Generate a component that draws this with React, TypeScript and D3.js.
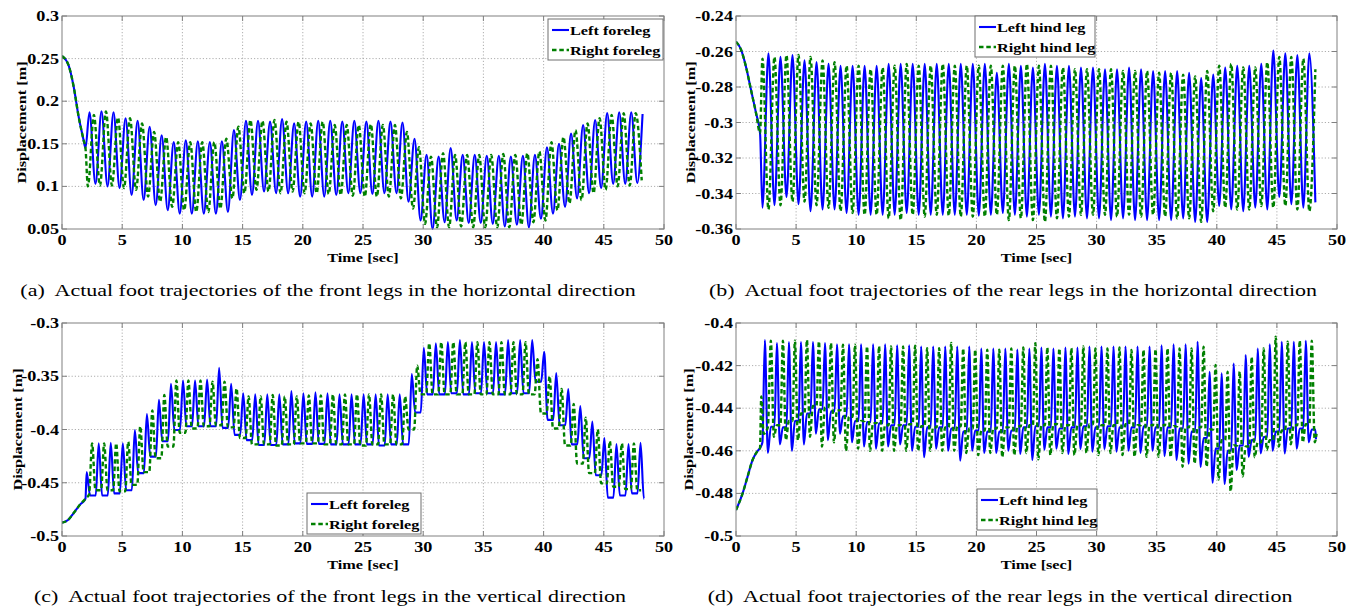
import React from 'react';
import * as d3 from 'd3';

type Pt = [number, number];

// ---------- shared data ----------
const GAIT_PERIOD = 1.0; // s, read from spacing of successive peaks
const TIME_TICKS = [0, 5, 10, 15, 20, 25, 30, 35, 40, 45, 50];
const LEGEND_FRONT = ['Left foreleg', 'Right foreleg'];
const LEGEND_REAR = ['Left hind leg', 'Right hind leg'];
const CAPTIONS = [
  '(a)  Actual foot trajectories of the front legs in the horizontal direction',
  '(b)  Actual foot trajectories of the rear legs in the horizontal direction',
  '(c)  Actual foot trajectories of the front legs in the vertical direction',
  '(d)  Actual foot trajectories of the rear legs in the vertical direction',
];

// ---------- (a) front legs, horizontal ----------
const A_Y_TICKS = ['0.05', '0.1', '0.15', '0.2', '0.25', '0.3'];
const A_START: Pt[] = [[0, 0.253], [0.55, 0.242], [0.97, 0.217], [1.38, 0.182], [1.8, 0.154], [1.95, 0.145]];
const A_LEFT_PEAK_T0 = 2.28;
const A_LEFT_PEAKS = [
  0.187, 0.188, 0.187, 0.18, 0.177, 0.17, 0.16, 0.152, 0.154, 0.153,
  0.152, 0.153, 0.166, 0.177, 0.177, 0.176, 0.179, 0.174, 0.176, 0.177,
  0.177, 0.176, 0.177, 0.176, 0.177, 0.176, 0.175, 0.156, 0.137, 0.135,
  0.145, 0.137, 0.137, 0.136, 0.136, 0.135, 0.136, 0.137, 0.146, 0.15,
  0.162, 0.172, 0.178, 0.186, 0.187, 0.187];
const A_LEFT_TROUGH_T0 = 2.78;
const A_LEFT_TROUGHS = [
  0.103, 0.1, 0.098, 0.09, 0.084, 0.078, 0.072, 0.068, 0.068, 0.068,
  0.068, 0.07, 0.084, 0.09, 0.094, 0.092, 0.092, 0.088, 0.088, 0.088,
  0.09, 0.092, 0.092, 0.091, 0.092, 0.092, 0.082, 0.06, 0.05, 0.058,
  0.06, 0.057, 0.057, 0.056, 0.053, 0.055, 0.052, 0.062, 0.068, 0.076,
  0.086, 0.092, 0.098, 0.103, 0.103, 0.104];
const A_LEFT_END: Pt[] = [[48.22, 0.185]];
const A_RIGHT_TROUGH_T0 = 2.15;
const A_RIGHT_TROUGHS = [
  0.1, 0.101, 0.101, 0.098, 0.096, 0.088, 0.082, 0.076, 0.072, 0.07,
  0.07, 0.074, 0.086, 0.092, 0.096, 0.094, 0.092, 0.094, 0.092, 0.092,
  0.091, 0.09, 0.089, 0.088, 0.088, 0.088, 0.086, 0.074, 0.056, 0.052,
  0.052, 0.053, 0.052, 0.052, 0.052, 0.052, 0.055, 0.058, 0.06, 0.072,
  0.08, 0.084, 0.092, 0.096, 0.1, 0.101, 0.107];
const A_RIGHT_PEAK_T0 = 2.65;
const A_RIGHT_PEAKS = [
  0.184, 0.188, 0.181, 0.18, 0.174, 0.164, 0.158, 0.152, 0.152, 0.152,
  0.152, 0.156, 0.17, 0.178, 0.177, 0.178, 0.176, 0.176, 0.174, 0.176,
  0.172, 0.172, 0.172, 0.173, 0.172, 0.172, 0.164, 0.146, 0.135, 0.139,
  0.137, 0.137, 0.137, 0.137, 0.138, 0.137, 0.139, 0.141, 0.152, 0.158,
  0.166, 0.174, 0.18, 0.184, 0.186, 0.186];

// ---------- (b) rear legs, horizontal ----------
const B_Y_TICKS = ['-0.36', '-0.34', '-0.32', '-0.3', '-0.28', '-0.26', '-0.24'];
const B_START: Pt[] = [[0, -0.2545], [0.42, -0.259], [0.83, -0.2686], [1.25, -0.2817], [1.67, -0.2948], [2.0, -0.306]];
const B_LEFT_TROUGH_T0 = 2.2;
const B_LEFT_TROUGHS = [
  -0.348, -0.3466, -0.342, -0.346, -0.35, -0.349, -0.349, -0.351, -0.352, -0.352,
  -0.352, -0.352, -0.351, -0.352, -0.352, -0.352, -0.352, -0.352, -0.3525, -0.352,
  -0.351, -0.352, -0.353, -0.352, -0.353, -0.354, -0.353, -0.354, -0.354, -0.355,
  -0.354, -0.355, -0.355, -0.355, -0.355, -0.354, -0.356, -0.356, -0.347, -0.349,
  -0.35, -0.348, -0.349, -0.342, -0.346, -0.348, -0.345];
const B_LEFT_PEAK_T0 = 2.7;
const B_LEFT_PEAKS = [
  -0.261, -0.263, -0.262, -0.265, -0.266, -0.267, -0.268, -0.268, -0.268, -0.268,
  -0.267, -0.267, -0.267, -0.267, -0.267, -0.267, -0.267, -0.267, -0.267, -0.272,
  -0.267, -0.268, -0.269, -0.267, -0.268, -0.268, -0.269, -0.269, -0.27, -0.27,
  -0.269, -0.27, -0.271, -0.271, -0.271, -0.272, -0.275, -0.273, -0.269, -0.268,
  -0.268, -0.267, -0.2595, -0.261, -0.262, -0.261];
const B_RIGHT_PEAK_T0 = 2.2;
const B_RIGHT_PEAKS = [
  -0.264, -0.263, -0.262, -0.262, -0.263, -0.265, -0.266, -0.268, -0.268, -0.27,
  -0.269, -0.268, -0.267, -0.268, -0.268, -0.267, -0.268, -0.268, -0.268, -0.268,
  -0.268, -0.268, -0.267, -0.268, -0.268, -0.269, -0.27, -0.27, -0.27, -0.27,
  -0.271, -0.271, -0.271, -0.272, -0.272, -0.273, -0.274, -0.271, -0.268, -0.267,
  -0.269, -0.269, -0.266, -0.263, -0.263, -0.264, -0.27];
const B_RIGHT_TROUGH_T0 = 2.7;
const B_RIGHT_TROUGHS = [
  -0.349, -0.3466, -0.3446, -0.3446, -0.3466, -0.348, -0.35, -0.351, -0.352, -0.352,
  -0.354, -0.355, -0.352, -0.353, -0.352, -0.3525, -0.353, -0.353, -0.353, -0.352,
  -0.355, -0.354, -0.355, -0.356, -0.354, -0.353, -0.352, -0.352, -0.352, -0.353,
  -0.352, -0.353, -0.352, -0.353, -0.354, -0.354, -0.356, -0.35, -0.348, -0.349,
  -0.349, -0.347, -0.348, -0.347, -0.349, -0.35];

// ---------- (c) front legs, vertical ----------
const C_Y_TICKS = ['-0.5', '-0.45', '-0.4', '-0.35', '-0.3'];
const C_START: Pt[] = [[0, -0.4875], [0.5, -0.485], [1.0, -0.478], [1.5, -0.4705], [1.95, -0.465]];
const C_LEFT_PEAK_T0 = 2.05;
const C_LEFT_PEAKS = [
  -0.44, -0.413, -0.4125, -0.413, -0.4006, -0.3856, -0.372, -0.357, -0.354, -0.354,
  -0.353, -0.342, -0.357, -0.366, -0.367, -0.367, -0.367, -0.364, -0.366, -0.365,
  -0.366, -0.367, -0.367, -0.367, -0.367, -0.367, -0.367, -0.348, -0.3234, -0.319,
  -0.318, -0.316, -0.318, -0.318, -0.318, -0.316, -0.316, -0.316, -0.327, -0.347,
  -0.362, -0.378, -0.3926, -0.408, -0.4136, -0.4136, -0.4126];
const C_LEFT_BASES = [
  -0.462, -0.462, -0.46, -0.457, -0.441, -0.4255, -0.411, -0.4005, -0.397, -0.397,
  -0.397, -0.3985, -0.405, -0.41, -0.4146, -0.4146, -0.414, -0.413, -0.4135, -0.4135,
  -0.414, -0.414, -0.414, -0.414, -0.415, -0.414, -0.414, -0.384, -0.367, -0.367,
  -0.366, -0.367, -0.366, -0.366, -0.367, -0.366, -0.366, -0.355, -0.391, -0.396,
  -0.414, -0.427, -0.443, -0.464, -0.462, -0.46, -0.465];
const C_LEFT_END: Pt[] = [[48.35, -0.465]];
const C_RIGHT_LEAD: Pt[] = [[2.25, -0.461]];
const C_RIGHT_PEAK_T0 = 2.5;
const C_RIGHT_PEAKS = [
  -0.413, -0.413, -0.413, -0.4115, -0.397, -0.382, -0.3676, -0.354, -0.354, -0.354,
  -0.355, -0.355, -0.3614, -0.369, -0.369, -0.3676, -0.369, -0.369, -0.368, -0.368,
  -0.367, -0.367, -0.367, -0.367, -0.367, -0.367, -0.369, -0.34, -0.319, -0.318,
  -0.318, -0.318, -0.318, -0.318, -0.318, -0.318, -0.318, -0.334, -0.35, -0.362,
  -0.376, -0.389, -0.4, -0.411, -0.413, -0.413];
const C_RIGHT_BASES = [
  -0.457, -0.457, -0.458, -0.452, -0.44, -0.427, -0.416, -0.403, -0.399, -0.397,
  -0.396, -0.398, -0.408, -0.414, -0.414, -0.415, -0.414, -0.413, -0.413, -0.414,
  -0.414, -0.414, -0.415, -0.414, -0.414, -0.414, -0.4, -0.367, -0.367, -0.367,
  -0.367, -0.367, -0.367, -0.367, -0.367, -0.367, -0.367, -0.385, -0.399, -0.415,
  -0.432, -0.441, -0.4506, -0.4537, -0.456, -0.457];
const C_RIGHT_END: Pt[] = [[48.1, -0.457]];

// ---------- (d) rear legs, vertical ----------
const D_Y_TICKS = ['-0.5', '-0.48', '-0.46', '-0.44', '-0.42', '-0.4'];
const D_START: Pt[] = [[0, -0.4878], [0.55, -0.48], [0.97, -0.472], [1.38, -0.4643], [1.8, -0.46], [2.0, -0.4587]];
const D_LEFT_LEAD: Pt[] = [[2.2, -0.456]];
const D_LEFT_PEAK_T0 = 2.4;
const D_LEFT_PEAKS = [
  -0.408, -0.4094, -0.409, -0.409, -0.409, -0.4094, -0.41, -0.41, -0.41, -0.41,
  -0.41, -0.4105, -0.4105, -0.411, -0.411, -0.411, -0.411, -0.411, -0.412, -0.412,
  -0.412, -0.4125, -0.412, -0.4115, -0.412, -0.4115, -0.4115, -0.411, -0.411, -0.411,
  -0.411, -0.411, -0.411, -0.4105, -0.41, -0.41, -0.4088, -0.4229, -0.4236, -0.419,
  -0.415, -0.412, -0.41, -0.4088, -0.4088, -0.4083];
const D_LEFT_DIPS = [
  -0.461, -0.457, -0.46, -0.457, -0.452, -0.455, -0.452, -0.456, -0.458, -0.459,
  -0.458, -0.457, -0.46, -0.463, -0.459, -0.46, -0.4646, -0.46, -0.461, -0.461,
  -0.46, -0.4615, -0.4643, -0.4595, -0.459, -0.4615, -0.4592, -0.4604, -0.4592, -0.4604,
  -0.46, -0.461, -0.46, -0.4625, -0.4643, -0.466, -0.4676, -0.475, -0.4756, -0.469,
  -0.4628, -0.4612, -0.46, -0.4612, -0.459, -0.456];
const D_LEFT_BASES = [
  -0.4487, -0.449, -0.446, -0.4425, -0.4405, -0.4415, -0.4438, -0.446, -0.4465, -0.4471,
  -0.448, -0.448, -0.4487, -0.449, -0.449, -0.4495, -0.451, -0.4505, -0.451, -0.451,
  -0.4505, -0.449, -0.4485, -0.449, -0.4495, -0.449, -0.4485, -0.449, -0.4485, -0.449,
  -0.449, -0.4485, -0.449, -0.449, -0.4495, -0.451, -0.454, -0.459, -0.46, -0.4575,
  -0.455, -0.4535, -0.451, -0.4495, -0.4495, -0.45];
const D_LEFT_END: Pt[] = [[48.25, -0.4546]];
const D_RIGHT_LEAD: Pt[] = [[2.1, -0.4345], [2.3, -0.452], [2.65, -0.449]];
const D_RIGHT_PEAK_T0 = 2.9;
const D_RIGHT_PEAKS = [
  -0.4083, -0.4083, -0.4083, -0.408, -0.4086, -0.4094, -0.4102, -0.4102, -0.411, -0.411,
  -0.411, -0.411, -0.4106, -0.4118, -0.4118, -0.4094, -0.412, -0.4125, -0.4125, -0.4125,
  -0.412, -0.4115, -0.4095, -0.4115, -0.412, -0.4118, -0.411, -0.412, -0.412, -0.4115,
  -0.4127, -0.4127, -0.4123, -0.412, -0.412, -0.412, -0.4111, -0.4197, -0.4229, -0.4228,
  -0.416, -0.4119, -0.4064, -0.4088, -0.4083, -0.4083];
const D_RIGHT_DIPS = [
  -0.4534, -0.455, -0.455, -0.4534, -0.458, -0.456, -0.46, -0.459, -0.46, -0.46,
  -0.46, -0.46, -0.46, -0.46, -0.46, -0.46, -0.461, -0.462, -0.461, -0.463,
  -0.462, -0.461, -0.464, -0.462, -0.461, -0.462, -0.461, -0.462, -0.461, -0.462,
  -0.4628, -0.4628, -0.4628, -0.463, -0.4675, -0.466, -0.4675, -0.4735, -0.479, -0.472,
  -0.463, -0.4596, -0.458, -0.457, -0.456, -0.456];
const D_RIGHT_BASES = [
  -0.448, -0.446, -0.4425, -0.439, -0.4395, -0.441, -0.444, -0.446, -0.447, -0.448,
  -0.448, -0.4475, -0.4485, -0.449, -0.449, -0.4485, -0.4495, -0.4505, -0.4495, -0.449,
  -0.4485, -0.448, -0.448, -0.4475, -0.448, -0.448, -0.4475, -0.448, -0.448, -0.4475,
  -0.448, -0.448, -0.448, -0.4485, -0.449, -0.449, -0.45, -0.455, -0.4575, -0.458,
  -0.456, -0.455, -0.4505, -0.448, -0.4475, -0.4517];
const D_RIGHT_END: Pt[] = [[48.3, -0.452]];

// ---------- series builders ----------
function waveSeries(intro: Pt[], highs: number[], highT0: number, lows: number[], lowT0: number, tail: Pt[] = []): Pt[] {
  const cyc: Pt[] = [];
  highs.forEach((v, i) => cyc.push([highT0 + i * GAIT_PERIOD, v]));
  lows.forEach((v, i) => cyc.push([lowT0 + i * GAIT_PERIOD, v]));
  cyc.sort((p, q) => p[0] - q[0]);
  const stop = tail.length ? tail[0][0] : Infinity;
  return [...intro, ...cyc.filter((p) => p[0] < stop), ...tail];
}

function spikeSeries(intro: Pt[], peaks: number[], t0: number, dips: number[] | null, bases: number[], shape: number[], tail: Pt[] = []): Pt[] {
  const cyc: Pt[] = [];
  peaks.forEach((v, i) => {
    const tp = t0 + i * GAIT_PERIOD;
    cyc.push([tp, v]);
    if (dips) cyc.push([tp + shape[0], dips[i]]);
    cyc.push([tp + shape[1], bases[i]]);
    cyc.push([tp + shape[2], bases[i]]);
  });
  const stop = tail.length ? tail[0][0] : Infinity;
  return [...intro, ...cyc.filter((p) => p[0] < stop - 0.01), ...tail];
}

const SHAPE_C = [0, 0.28, 0.75];
const SHAPE_D = [0.25, 0.5, 0.8];

// ---------- layout ----------
const FONT = "'Liberation Serif', 'Times New Roman', Times, serif";
const SX = 1.25;
const BLUE = '#0000ff';
const GREEN = '#008000';
const AXIS = '#808080';
const TICK_FS = 14.5;
const LABEL_FS = 13;
const LEGEND_FS = 13;
const CAPTION_FS = 17.6;

const PANELS = [
  {
    id: 'a', x0: 62, x1: 664, y0: 16, y1: 229, yTicks: A_Y_TICKS, yLab: 41,
    legend: { x: 548, y: 19, w: 115, labels: LEGEND_FRONT }, caption: CAPTIONS[0], capX: 328, capY: 296,
    left: waveSeries(A_START, A_LEFT_PEAKS, A_LEFT_PEAK_T0, A_LEFT_TROUGHS, A_LEFT_TROUGH_T0, A_LEFT_END),
    right: waveSeries(A_START, A_RIGHT_PEAKS, A_RIGHT_PEAK_T0, A_RIGHT_TROUGHS, A_RIGHT_TROUGH_T0),
  },
  {
    id: 'b', x0: 736, x1: 1337, y0: 16, y1: 229, yTicks: B_Y_TICKS, yLab: 46,
    legend: { x: 975, y: 16, w: 120, labels: LEGEND_REAR }, caption: CAPTIONS[1], capX: 1013, capY: 296,
    left: waveSeries(B_START, B_LEFT_PEAKS, B_LEFT_PEAK_T0, B_LEFT_TROUGHS, B_LEFT_TROUGH_T0),
    right: waveSeries(B_START, B_RIGHT_PEAKS, B_RIGHT_PEAK_T0, B_RIGHT_TROUGHS, B_RIGHT_TROUGH_T0),
  },
  {
    id: 'c', x0: 62, x1: 664, y0: 323, y1: 536, yTicks: C_Y_TICKS, yLab: 45,
    legend: { x: 307, y: 493, w: 114, labels: LEGEND_FRONT }, caption: CAPTIONS[2], capX: 330, capY: 602,
    left: spikeSeries(C_START, C_LEFT_PEAKS, C_LEFT_PEAK_T0, null, C_LEFT_BASES, SHAPE_C, C_LEFT_END),
    right: spikeSeries([...C_START, ...C_RIGHT_LEAD], C_RIGHT_PEAKS, C_RIGHT_PEAK_T0, null, C_RIGHT_BASES, SHAPE_C, C_RIGHT_END),
  },
  {
    id: 'd', x0: 736, x1: 1337, y0: 323, y1: 536, yTicks: D_Y_TICKS, yLab: 48,
    legend: { x: 977, y: 489, w: 120, labels: LEGEND_REAR }, caption: CAPTIONS[3], capX: 1000, capY: 602,
    left: spikeSeries([...D_START, ...D_LEFT_LEAD], D_LEFT_PEAKS, D_LEFT_PEAK_T0, D_LEFT_DIPS, D_LEFT_BASES, SHAPE_D, D_LEFT_END),
    right: spikeSeries([...D_START, ...D_RIGHT_LEAD], D_RIGHT_PEAKS, D_RIGHT_PEAK_T0, D_RIGHT_DIPS, D_RIGHT_BASES, SHAPE_D, D_RIGHT_END),
  },
];

function T(props: { x: number; y: number; anchor?: string; size: number; bold?: boolean; rot?: boolean; dy?: string; children: React.ReactNode }) {
  const { x, y, anchor = 'start', size, bold, rot, dy, children } = props;
  return (
    <text
      transform={`translate(${x},${y})${rot ? ' rotate(-90)' : ''} scale(${SX},1)`}
      textAnchor={anchor}
      fontSize={size}
      fontWeight={bold ? 'bold' : 'normal'}
      fontFamily={FONT}
      dy={dy}
      fill="#000"
      style={{ whiteSpace: 'pre' }}
    >
      {children}
    </text>
  );
}

function Panel({ p }: { p: (typeof PANELS)[number] }) {
  const yVals = p.yTicks.map((s) => +s);
  const x = d3.scaleLinear().domain([TIME_TICKS[0], TIME_TICKS[TIME_TICKS.length - 1]]).range([p.x0, p.x1]);
  const y = d3.scaleLinear().domain([yVals[0], yVals[yVals.length - 1]]).range([p.y1, p.y0]);
  const line = d3.line<Pt>().x((d) => x(d[0])).y((d) => y(d[1])).curve(d3.curveMonotoneX);
  const clipId = `clip-${p.id}`;
  const lg = p.legend;
  const tick = 5;
  return (
    <g>
      <defs>
        <clipPath id={clipId}>
          <rect x={p.x0} y={p.y0 - 2} width={p.x1 - p.x0} height={p.y1 - p.y0 + 4} />
        </clipPath>
      </defs>
      <rect x={p.x0} y={p.y0} width={p.x1 - p.x0} height={p.y1 - p.y0} fill="#fff" />
      {TIME_TICKS.slice(1, -1).map((t) => (
        <line key={`gx${t}`} x1={x(t)} x2={x(t)} y1={p.y0} y2={p.y1} stroke="#999" strokeWidth={0.8} strokeDasharray="1.2,2" />
      ))}
      {yVals.slice(1, -1).map((v) => (
        <line key={`gy${v}`} x1={p.x0} x2={p.x1} y1={y(v)} y2={y(v)} stroke="#999" strokeWidth={0.8} strokeDasharray="1.2,2" />
      ))}
      {TIME_TICKS.map((t) => (
        <g key={`tx${t}`}>
          <line x1={x(t)} x2={x(t)} y1={p.y1} y2={p.y1 - tick} stroke={AXIS} />
          <line x1={x(t)} x2={x(t)} y1={p.y0} y2={p.y0 + tick} stroke={AXIS} />
        </g>
      ))}
      {yVals.map((v) => (
        <g key={`ty${v}`}>
          <line x1={p.x0} x2={p.x0 + tick} y1={y(v)} y2={y(v)} stroke={AXIS} />
          <line x1={p.x1} x2={p.x1 - tick} y1={y(v)} y2={y(v)} stroke={AXIS} />
        </g>
      ))}
      <g clipPath={`url(#${clipId})`}>
        <path d={line(p.left) || ''} fill="none" stroke={BLUE} strokeWidth={2.1} strokeLinejoin="round" />
        <path d={line(p.right) || ''} fill="none" stroke={GREEN} strokeWidth={2.4} strokeDasharray="4.5,2.8" strokeLinejoin="round" />
      </g>
      <rect x={p.x0} y={p.y0} width={p.x1 - p.x0} height={p.y1 - p.y0} fill="none" stroke={AXIS} strokeWidth={1} />
      {TIME_TICKS.map((t) => (
        <T key={`lx${t}`} x={x(t)} y={p.y1 + 16} anchor="middle" size={TICK_FS} bold>{String(t)}</T>
      ))}
      {p.yTicks.map((s) => (
        <T key={`ly${s}`} x={p.x0 - 3} y={y(+s)} anchor="end" size={TICK_FS} bold dy="0.35em">{s}</T>
      ))}
      <T x={(p.x0 + p.x1) / 2} y={p.y1 + 32.5} anchor="middle" size={LABEL_FS} bold>Time [sec]</T>
      <T x={p.x0 - p.yLab} y={(p.y0 + p.y1) / 2} anchor="middle" size={LABEL_FS} bold rot dy="0.35em">Displacement [m]</T>
      <rect x={lg.x} y={lg.y} width={lg.w} height={41} fill="#fff" stroke="#6e6e6e" strokeWidth={1} />
      <line x1={lg.x + 4} x2={lg.x + 21} y1={lg.y + 11} y2={lg.y + 11} stroke={BLUE} strokeWidth={2.1} />
      <line x1={lg.x + 4} x2={lg.x + 21} y1={lg.y + 31} y2={lg.y + 31} stroke={GREEN} strokeWidth={2.4} strokeDasharray="4.5,2.8" />
      <T x={lg.x + 22} y={lg.y + 11} size={LEGEND_FS} bold dy="0.35em">{lg.labels[0]}</T>
      <T x={lg.x + 22} y={lg.y + 31} size={LEGEND_FS} bold dy="0.35em">{lg.labels[1]}</T>
      <T x={p.capX} y={p.capY} anchor="middle" size={CAPTION_FS}>{p.caption}</T>
    </g>
  );
}

export default function App() {
  return (
    <svg width={1347} height={608} style={{ position: 'absolute', left: 0, top: 0, background: '#fff' }}>
      <rect x={0} y={0} width={1347} height={608} fill="#fff" />
      {PANELS.map((p) => (
        <Panel key={p.id} p={p} />
      ))}
    </svg>
  );
}
